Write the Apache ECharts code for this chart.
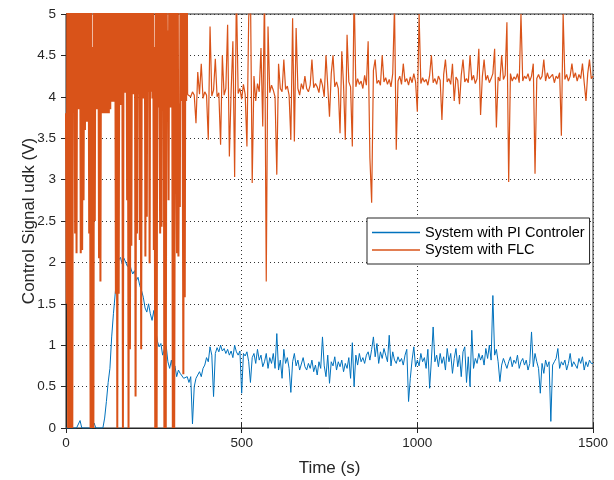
<!DOCTYPE html>
<html>
<head>
<meta charset="utf-8">
<script src="https://cdn.jsdelivr.net/npm/echarts@6/dist/echarts.min.js"></script>
<style>
  html, body { margin: 0; padding: 0; background: #fff; }
  #main { width: 614px; height: 480px; }
</style>
</head>
<body>
<div id="main"></div>
<script>
// sample times (s)
var piStep = 5;          // PI series sampled every 5 s from 0
var flcEarlyStep = 2;    // FLC transient sampled every 2 s from 0
var flcLateStart = 345;  // FLC steady part starts here
var flcLateStep = 5;

var xTicks = [0, 500, 1000, 1500];
var yTicks = [0, 0.5, 1, 1.5, 2, 2.5, 3, 3.5, 4, 4.5, 5];

// System with PI Controler, t = 0..1500 step 5
var piValues = [
  0,0,0,0,0,0,0,0,0.09,0, 0,0,0,0,0,0,0.06,0,0,0,
  0,0,0.12,0.32,0.55,0.72,1.1,1.38,1.62,1.85, 2.03,2.06,1.98,2.05,2.07,1.95,2.02,1.92,1.86,1.9,
  1.78,1.82,1.72,1.66,1.58,1.45,1.4,1.5,1.38,1.3, 1.42,1.2,1.05,0.98,1.02,0.88,0.95,1.0,0.8,0.72,
  0.82,0.68,0.75,0.62,0.7,0.66,0.64,0.6,0.58,0.62, 0.55,0.62,0.05,0.5,0.6,0.58,0.68,0.62,0.72,0.76,
  0.85,0.8,0.98,0.88,0.38,0.9,0.97,0.92,1.0,0.93, 0.96,0.9,0.95,0.88,0.93,0.85,1.0,0.92,0.88,0.93,
  0.42,0.9,0.87,0.92,0.8,0.55,0.85,0.9,0.78,0.95, 0.82,0.88,0.74,0.8,0.9,0.72,0.85,0.78,0.9,0.72,
  1.14,0.7,0.82,0.6,0.95,0.78,0.85,0.72,0.43,0.8, 0.9,0.75,0.82,0.7,0.68,0.85,0.74,0.7,0.78,0.72,
  0.82,0.68,0.76,0.64,0.8,0.72,1.1,0.75,0.62,0.88, 0.54,0.8,0.75,0.86,0.7,0.8,0.74,0.82,0.68,0.78,
  0.72,0.85,0.6,1.03,0.5,0.88,0.76,0.9,0.8,0.85, 0.78,0.88,0.92,0.82,0.95,1.1,0.86,1.02,0.78,0.92,
  0.84,0.96,0.88,0.8,1.12,0.75,0.92,0.82,0.78,0.86, 0.8,0.84,0.76,0.88,0.95,0.32,0.6,0.82,0.98,0.74,
  0.82,0.75,0.9,0.8,0.85,0.72,0.95,0.48,0.82,1.22, 0.8,0.88,0.74,0.9,0.78,0.86,0.7,0.96,0.8,0.9,
  0.66,0.84,0.96,0.74,0.88,0.62,0.92,0.98,0.55,0.86, 0.5,1.18,0.72,0.84,0.78,0.9,0.82,0.88,0.76,0.96,
  0.84,1.0,0.82,1.6,0.88,0.95,0.8,0.56,0.76,0.84, 0.78,0.72,0.8,0.86,0.74,0.82,0.78,0.88,0.72,0.8,
  0.84,0.76,0.82,0.7,0.78,1.16,0.74,0.9,0.8,0.72, 0.42,0.78,0.66,0.82,0.74,0.8,0.08,0.76,0.8,0.84,
  0.96,0.72,0.8,0.76,0.82,0.7,0.78,0.9,0.74,0.8, 0.76,0.72,0.84,0.78,0.86,0.7,0.8,0.74,0.82,0.78,
  0.78
];

// System with FLC, transient t = 0..344 step 2 (values above 5 are cut by the axis)
var flcEarly = [
  3.8,1.5,5.6,0,5.6,0,5.6,0,5.6,0,
  5.6,3.85,5.6,2.35,5.6,2.11,5.6,3.85,5.6,3.85,
  5.6,2.11,5.6,2.15,5.6,2.75,5.6,3.6,5.6,3.7,
  5.6,3.7,5.6,2.35,5.6,0,5.6,0,4.6,0,
  5.6,2.5,5.6,3.85,5.6,3.85,5.6,2.05,5.6,1.77,
  5.6,3.8,5.6,3.8,5.6,3.8,5.6,3.8,5.6,3.8,
  5.6,3.8,5.6,3.85,5.6,3.94,5.6,3.94,5.6,3.94,
  5.6,1.62,5.6,0,5.6,1.62,5.6,3.9,5.6,3.9,
  5.6,0,5.6,4.05,5.6,4.05,5.6,2.75,5.6,0,
  5.6,0.95,5.6,2.2,5.6,4.03,5.6,4.03,5.6,0.38,
  5.6,2.35,5.6,4.03,5.6,2.27,5.6,0.95,5.6,3.98,
  5.6,3.98,5.6,2.07,5.6,2.55,5.6,4.06,5.6,1.99,
  5.6,4.06,5.6,3.98,5.6,2.15,4.6,0,5.6,0,
  5.6,3.87,5.6,3.87,2.35,5.6,2.43,5.6,3.95,5.6,
  0,5.6,0,5.6,3.95,4.8,2.75,5.6,3.87,5.6,
  3.87,5.6,0,5.6,0,3.92,5.6,3.92,2.11,5.6,
  2.07,3.92,2.67,5.6,3.95,5.6,3.95,0.65,5.6,1.58,
  5.6,3.95,5.6
];

// System with FLC, steady part t = 345..1500 step 5
var flcLate = [
  4.03,4.05,4.0,4.06,4.02,3.68,4.3,4.03,4.4,3.98,
  4.06,4.02,3.48,4.85,4.01,4.08,4.46,4.0,4.05,3.42,
  4.5,4.02,4.1,4.87,3.28,4.06,4.67,3.03,5.3,4.04,
  4.1,3.97,4.15,4.03,3.4,4.95,5.3,2.96,4.25,3.95,
  4.16,4.06,4.59,3.64,5.3,1.77,4.85,4.05,4.14,4.08,
  4.0,3.06,4.4,4.1,4.06,4.45,4.09,4.13,4.02,3.48,
  4.95,3.46,4.83,4.1,4.02,4.16,4.09,4.25,4.1,4.06,
  4.14,4.45,4.11,4.16,4.12,4.05,4.22,4.14,4.0,4.5,
  4.13,3.76,4.28,4.5,4.12,4.18,4.1,3.56,4.55,4.14,
  3.48,4.75,4.18,4.12,3.4,5.3,4.12,4.22,4.15,4.19,
  4.1,4.26,4.14,4.67,3.26,2.72,4.32,4.45,4.16,4.2,
  4.14,4.5,4.18,4.23,4.15,4.21,4.12,4.28,5.1,3.36,
  4.19,4.25,4.15,4.4,4.18,4.22,4.14,4.24,4.17,4.28,
  4.18,3.82,5.0,4.16,4.23,4.18,4.21,4.14,4.26,4.5,
  4.17,4.22,4.15,4.25,4.2,3.72,4.27,4.45,4.18,4.22,
  4.15,4.4,3.95,4.24,4.2,3.91,4.26,4.45,4.18,4.22,
  4.17,4.5,4.2,4.26,4.16,4.22,4.58,3.78,4.24,4.45,
  4.2,4.26,4.17,4.22,4.28,4.58,3.63,4.24,4.19,4.5,
  4.21,4.26,4.9,2.97,4.28,4.19,4.24,4.21,4.28,4.17,
  5.0,4.19,4.25,4.22,4.28,4.19,4.25,4.4,3.07,4.22,
  4.27,4.21,4.25,4.45,4.19,4.29,4.22,4.21,4.27,4.17,
  4.25,4.22,4.29,3.53,5.0,4.21,4.27,4.19,4.25,4.4,
  4.23,4.29,4.19,4.27,4.22,4.4,4.17,3.95,4.28,4.45,
  4.22,4.25
];

function pairs(values, start, step) {
  var out = [];
  for (var i = 0; i < values.length; i++) {
    out.push([start + i * step, values[i]]);
  }
  return out;
}

var piData = pairs(piValues, 0, piStep);
var flcLateData = pairs(flcLate, flcLateStart, flcLateStep);
// transient part, joined to the first steady sample
var flcEarlyData = pairs(flcEarly, 0, flcEarlyStep).concat([flcLateData[0]]);

var font = "'Liberation Sans', Arial, sans-serif";
var axisColor = '#262626';
var piColor = '#0072BD';
var flcColor = '#D95319';

var chart = echarts.init(document.getElementById('main'), null, { renderer: 'canvas' });

var gridLine = { show: true, lineStyle: { color: '#333', width: 1, type: [1, 3] } };

chart.setOption({
  animation: false,
  backgroundColor: '#fff',
  textStyle: { fontFamily: font },
  grid: {
    left: 66, right: 21, top: 14, bottom: 52,
    containLabel: false, outerBoundsMode: 'none',
    show: true, borderColor: axisColor, borderWidth: 1, backgroundColor: '#fff'
  },
  legend: {
    left: 367, top: 218,
    orient: 'vertical',
    icon: 'rect',
    itemWidth: 48, itemHeight: 1.5,
    itemGap: 2.5,
    padding: [7, 5, 6.5, 5],
    backgroundColor: '#fff',
    borderColor: axisColor, borderWidth: 1,
    textStyle: { fontFamily: font, fontSize: 14.5, color: '#000' },
    data: ['System with PI Controler', 'System with FLC']
  },
  xAxis: [{
    type: 'value', min: 0, max: 1500, interval: 500,
    name: 'Time (s)', nameLocation: 'middle', nameGap: 32,
    nameTextStyle: { fontFamily: font, fontSize: 17, color: axisColor },
    axisLine: { show: true, onZero: false, lineStyle: { color: axisColor } },
    axisTick: { show: true, inside: true, length: 5, lineStyle: { color: axisColor } },
    axisLabel: { fontFamily: font, fontSize: 13.5, color: axisColor, margin: 8,
      formatter: function (v) { return xTicks.indexOf(v) >= 0 ? String(v) : ''; } },
    splitLine: gridLine
  }, {
    type: 'value', min: 0, max: 1500, interval: 500, position: 'top',
    axisLine: { show: true, lineStyle: { color: axisColor } },
    axisTick: { show: true, inside: true, length: 5, lineStyle: { color: axisColor } },
    axisLabel: { show: false }, splitLine: { show: false }
  }],
  yAxis: [{
    type: 'value', min: 0, max: 5, interval: 0.5,
    name: 'Control Signal udk (V)', nameLocation: 'middle', nameGap: 28, nameRotate: 90,
    nameMoveOverlap: false,
    nameTextStyle: { fontFamily: font, fontSize: 17, color: axisColor },
    axisLine: { show: true, onZero: false, lineStyle: { color: axisColor } },
    axisTick: { show: true, inside: true, length: 5, lineStyle: { color: axisColor } },
    axisLabel: { fontFamily: font, fontSize: 13.5, color: axisColor, margin: 10,
      formatter: function (v) { return yTicks.indexOf(v) >= 0 ? String(v) : ''; } },
    splitLine: gridLine
  }, {
    type: 'value', min: 0, max: 5, interval: 0.5, position: 'right',
    axisLine: { show: true, lineStyle: { color: axisColor } },
    axisTick: { show: true, inside: true, length: 5, lineStyle: { color: axisColor } },
    axisLabel: { show: false }, splitLine: { show: false }
  }],
  series: [{
    name: 'System with PI Controler',
    type: 'line',
    data: piData,
    symbol: 'none',
    sampling: null,
    clip: true,
    color: piColor,
    lineStyle: { color: piColor, width: 1 },
    z: 2
  }, {
    name: 'System with FLC',
    type: 'line',
    data: flcEarlyData,
    symbol: 'none',
    sampling: null,
    clip: true,
    color: flcColor,
    lineStyle: { color: flcColor, width: 2 },
    z: 3
  }, {
    name: 'System with FLC',
    type: 'line',
    data: flcLateData,
    symbol: 'none',
    sampling: null,
    clip: true,
    color: flcColor,
    lineStyle: { color: flcColor, width: 1.2 },
    z: 3
  }]
});
</script>
</body>
</html>
